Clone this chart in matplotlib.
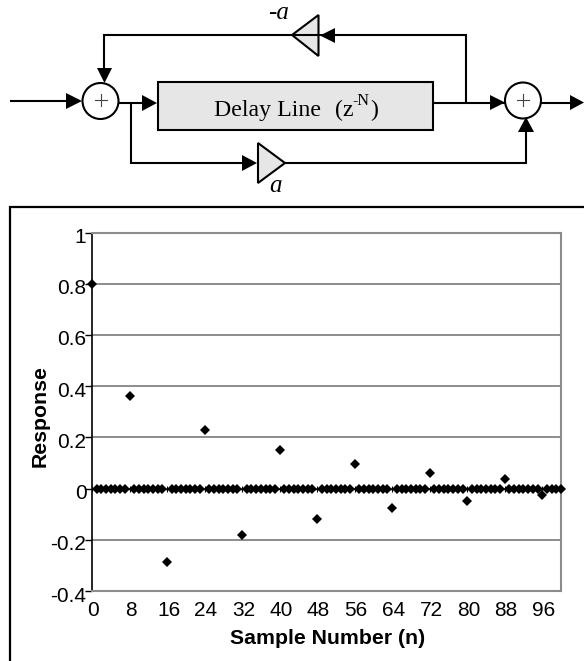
# Impulse response of an allpass delay line, with the block diagram above it.

import matplotlib
matplotlib.use('Agg')
import matplotlib.pyplot as plt
from matplotlib.patches import Circle, Polygon, Rectangle
from matplotlib.transforms import ScaledTranslation

W, H = 584, 661

sample_n = list(range(101))
echo_n = [0, 8, 16, 24, 32, 40, 48, 56, 64, 72, 80, 88, 96]
echo_values = [0.8, 0.36, -0.286, 0.23, -0.182, 0.151, -0.117, 0.095, -0.074,
               0.062, -0.047, 0.038, -0.027]
zero_n = [n for n in sample_n if n not in echo_n]
zero_values = [0.0 for n in zero_n]

x_ticks = [0, 8, 16, 24, 32, 40, 48, 56, 64, 72, 80, 88, 96]
y_ticks = [-0.4, -0.2, 0, 0.2, 0.4, 0.6, 0.8, 1]
y_labels = ['-0.4', '-0.2', '0', '0.2', '0.4', '0.6', '0.8', '1']

SANS = ['Liberation Sans', 'DejaVu Sans']
SERIF = ['Liberation Serif', 'DejaVu Serif']
LW = 1.5
GREY = '#e6e6e6'


def line(ax, xs, ys, lw=LW, color='k'):
	ax.plot(xs, ys, color=color, lw=lw, solid_capstyle='butt', solid_joinstyle='miter')


def arrow(ax, pts):
	ax.add_patch(Polygon(pts, closed=True, fc='k', ec='none', zorder=5))


def summer(ax, cx, cy):
	ax.add_patch(Circle((cx, cy), 18, fc='white', ec='k', lw=LW, zorder=4))
	line_kw = dict(color='#444444', lw=0.8, zorder=6)
	ax.plot([cx - 6, cx + 6], [cy - 1, cy - 1], **line_kw)
	ax.plot([cx, cx], [cy - 7, cy + 5], **line_kw)


def draw_diagram(ax):
	# every coordinate here is in image pixels
	ax.set_xlim(0, W)
	ax.set_ylim(H, 0)
	ax.axis('off')

	# outer frame of the chart
	line(ax, [10, 10, W], [H, 207, 207], lw=1.6)

	line(ax, [10, 70], [101, 101])
	arrow(ax, [(66, 93), (82, 101), (66, 109)])
	summer(ax, 100.5, 101)

	line(ax, [118, 145], [102.5, 102.5])
	arrow(ax, [(142, 95), (157, 103), (142, 111)])
	ax.add_patch(Rectangle((158, 82), 275, 48, fc=GREY, ec='k', lw=LW))
	ax.text(214, 116, 'Delay Line', family=SERIF, fontsize=17.2, va='baseline', ha='left')
	ax.text(335, 116, '(z', family=SERIF, fontsize=17.2, va='baseline', ha='left')
	ax.text(352, 105, '-N', family=SERIF, fontsize=11.5, va='baseline', ha='left')
	ax.text(370, 116, ')', family=SERIF, fontsize=17.2, va='baseline', ha='left')

	line(ax, [433, 510], [102.5, 102.5])
	arrow(ax, [(490, 95), (505, 102.5), (490, 110)])
	summer(ax, 523, 100.5)
	line(ax, [541, 575], [102.5, 102.5])
	arrow(ax, [(570, 95), (584, 102.5), (570, 110)])

	# feedback path
	line(ax, [466, 466, 292], [102.5, 35, 35])
	line(ax, [292, 104, 104], [35, 35, 70])
	arrow(ax, [(335, 28), (320, 35.5), (335, 43)])
	arrow(ax, [(97, 68), (112, 68), (104.5, 83)])
	ax.add_patch(Polygon([(318.5, 15), (292, 35), (318.5, 56)], closed=True, fc=GREY, ec='k', lw=LW))
	ax.text(279, 13, '-a', family=SERIF, style='italic', fontsize=18, ha='center', va='center')

	# feedforward path
	line(ax, [131, 131, 245], [102.5, 163, 163])
	line(ax, [285, 526, 526], [163, 163, 120])
	arrow(ax, [(242, 155), (257, 163), (242, 171)])
	arrow(ax, [(518, 132), (534, 132), (526, 117)])
	ax.add_patch(Polygon([(258, 143), (285, 163), (258, 183)], closed=True, fc=GREY, ec='k', lw=LW))
	ax.text(276, 186, 'a', family=SERIF, style='italic', fontsize=18, ha='center', va='center')


def draw_chart(fig):
	left, right, top, bottom = 92, 561, 232.5, 591
	ax = fig.add_axes([left / W, 1 - bottom / H, (right - left) / W, (bottom - top) / H])
	ax.patch.set_alpha(0)
	ax.set_xlim(0, 100)
	ax.set_ylim(-0.4, 1)

	for s in ['top', 'right', 'bottom']:
		ax.spines[s].set_color('#8c8c8c')
		ax.spines[s].set_linewidth(1.5)
	ax.spines['left'].set_color('k')
	ax.spines['left'].set_linewidth(1.2)

	ax.set_yticks(y_ticks)
	ax.set_yticklabels(y_labels, family=SANS, fontsize=15)
	ax.set_xticks(x_ticks)
	ax.set_xticklabels([str(t) for t in x_ticks], family=SANS, fontsize=15)
	ax.tick_params(axis='y', length=5, width=1, pad=-1)
	ax.tick_params(axis='x', length=0, pad=7)
	ax.grid(axis='y', color='#6e6e6e', lw=1.1)
	ax.set_axisbelow(True)

	shift = ScaledTranslation(0, -3 / 100, fig.dpi_scale_trans)
	for lab in ax.get_yticklabels():
		lab.set_transform(lab.get_transform() + shift)
	shift_x = ScaledTranslation(1.5 / 100, 0, fig.dpi_scale_trans)
	for lab in ax.get_xticklabels():
		lab.set_transform(lab.get_transform() + shift_x)

	# the x axis crosses at zero, its ticks sit on that line
	ax.axhline(0, color='k', lw=1)
	ax.plot(x_ticks, [0] * len(x_ticks), ls='none', marker='|', ms=5, mew=0.8, color='k')

	ax.plot(zero_n, zero_values, ls='none', marker='D', ms=5, mew=0, color='k', clip_on=False, zorder=5)
	ax.plot(echo_n, echo_values, ls='none', marker='D', ms=5, mew=0, color='k', clip_on=False, zorder=5)

	fig.text(328 / W, 1 - 639 / H, 'Sample Number (n)', family=SANS, weight='bold', fontsize=15.3, ha='center', va='center')
	fig.text(40 / W, 1 - 416 / H, 'Response', family=SANS, weight='bold', fontsize=15.3, rotation=90, ha='center', va='center')


fig = plt.figure(figsize=(W / 100, H / 100), dpi=100)
bg = fig.add_axes([0, 0, 1, 1])
draw_diagram(bg)
draw_chart(fig)
fig.savefig('out.png', dpi=100)
